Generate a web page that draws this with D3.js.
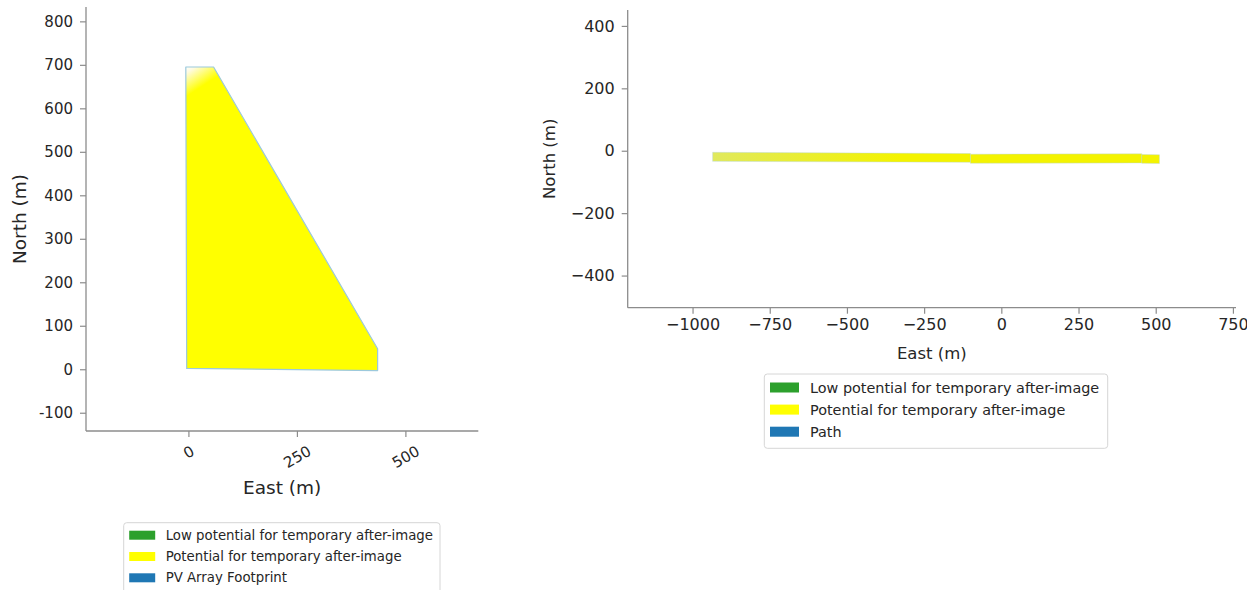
<!DOCTYPE html>
<html>
<head>
<meta charset="utf-8">
<script src="https://cdn.jsdelivr.net/npm/d3@7"></script>
<style>
  html, body { margin: 0; padding: 0; background: #fff; overflow: hidden; }
  svg { display: block; font-family: "DejaVu Sans", sans-serif; }
</style>
</head>
<body>
<svg id="chart" width="1247" height="590"></svg>
<script>
// ---------- DATA ----------
// Left panel: PV array footprint polygon (East, North in metres)
const footprintPolygon = [[-6, 695], [58, 695], [436, 47], [436, -3], [-4, 2]];
const leftXTicks = [0, 250, 500];
const leftYTicks = [-100, 0, 100, 200, 300, 400, 500, 600, 700, 800];
const leftXDomain = [-236, 668];
const leftYDomain = [-142, 833];

// Right panel: path segments (East, North in metres)
const pathSegments = [
  [[-935, -5], [-100, -9], [-100, -37], [-935, -34]],
  [[-100, -11], [455, -10], [455, -39], [-100, -40]],
  [[455, -12], [512, -13], [512, -41], [455, -40]]
];
const rightXTicks = [-1000, -750, -500, -250, 0, 250, 500, 750];
const rightYTicks = [-400, -200, 0, 200, 400];
const rightXDomain = [-1210, 760];
const rightYDomain = [-503, 451];

const legendLabels = ["Low potential for temporary after-image", "Potential for temporary after-image"];
const legendColors = ["#2ca02c", "#ffff00", "#1f77b4"];
const leftLegendLast = "PV Array Footprint";
const rightLegendLast = "Path";

// ---------- DRAW ----------
const svg = d3.select("#chart");
const textColor = "#262626";
const spineColor = "#8c8c8c";

const defs = svg.append("defs");
const g1 = defs.append("linearGradient").attr("id", "polyGrad")
  .attr("x1", 0).attr("y1", 0).attr("x2", 0.25).attr("y2", 0.6);
g1.append("stop").attr("offset", "0%").attr("stop-color", "#ffffff");
g1.append("stop").attr("offset", "3%").attr("stop-color", "#fffbe0");
g1.append("stop").attr("offset", "14%").attr("stop-color", "#ffff00");
g1.append("stop").attr("offset", "100%").attr("stop-color", "#ffff00");

const g2 = defs.append("linearGradient").attr("id", "pathGrad")
  .attr("gradientUnits", "userSpaceOnUse").attr("x1", 711).attr("y1", 0).attr("x2", 900).attr("y2", 0);
g2.append("stop").attr("offset", "0%").attr("stop-color", "#e0e95e");
g2.append("stop").attr("offset", "100%").attr("stop-color", "#f4f300");

function drawPanel(opt) {
  const x = d3.scaleLinear().domain(opt.xDomain).range(opt.xRange);
  const y = d3.scaleLinear().domain(opt.yDomain).range(opt.yRange);
  const g = svg.append("g");

  const yAxis = d3.axisLeft(y).tickValues(opt.yTicks).tickSize(6).tickPadding(7)
    .tickFormat(opt.fmt);
  const ya = g.append("g").attr("transform", `translate(${opt.xRange[0]},0)`).call(yAxis);
  const xAxis = d3.axisBottom(x).tickValues(opt.xTicks).tickSize(6).tickPadding(opt.rotate ? 8 : 5)
    .tickFormat(opt.fmt);
  const xa = g.append("g").attr("transform", `translate(0,${opt.yRange[0]})`).call(xAxis);

  [ya, xa].forEach(a => {
    a.select(".domain").remove();
    a.selectAll(".tick line").attr("stroke", spineColor).attr("stroke-width", 1.2);
    a.selectAll(".tick text").attr("fill", textColor)
      .style("font-size", opt.tickFont + "px").style("font-family", "DejaVu Sans");
  });
  g.append("line").attr("x1", opt.xRange[0]).attr("x2", opt.xRange[0])
    .attr("y1", opt.yRange[0]).attr("y2", opt.yRange[1])
    .attr("stroke", spineColor).attr("stroke-width", 1.3);
  g.append("line").attr("x1", opt.xRange[0]).attr("x2", opt.xRange[1])
    .attr("y1", opt.yRange[0]).attr("y2", opt.yRange[0])
    .attr("stroke", spineColor).attr("stroke-width", 1.3);

  if (opt.rotate) {
    xa.selectAll(".tick text").each(function () {
      const t = d3.select(this);
      const w = this.getComputedTextLength();
      const h = opt.tickFont * 0.9;
      const a = Math.PI / 6;
      const H = w * Math.sin(a) + h * Math.cos(a);
      const cy = 6 + 7 + H / 2;
      t.attr("y", null).attr("dy", null)
        .attr("dominant-baseline", "central")
        .attr("text-anchor", "middle")
        .attr("transform", `translate(0,${cy}) rotate(-30)`);
    });
  }

  g.append("text").text("East (m)")
    .attr("x", (opt.xRange[0] + opt.xRange[1]) / 2).attr("y", opt.xLabelY)
    .attr("text-anchor", "middle").attr("dominant-baseline", "central")
    .attr("fill", textColor).style("font-size", opt.labelFont + "px");
  g.append("text").text("North (m)")
    .attr("transform", `translate(${opt.yLabelX},${(opt.yRange[0] + opt.yRange[1]) / 2}) rotate(-90)`)
    .attr("text-anchor", "middle").attr("dominant-baseline", "central")
    .attr("fill", textColor).style("font-size", opt.labelFont + "px");

  const line = d3.line().x(d => x(d[0])).y(d => y(d[1]));
  g.selectAll("path.shape").data(opt.shapes).join("path")
    .attr("class", "shape")
    .attr("d", d => line(d) + "Z")
    .attr("fill", opt.fill)
    .attr("stroke", opt.stroke).attr("stroke-opacity", opt.strokeOpacity)
    .attr("stroke-width", opt.strokeWidth).attr("stroke-linejoin", "round");

  const L = opt.legend;
  const lg = g.append("g");
  lg.append("rect").attr("x", L.x).attr("y", L.y).attr("width", L.w).attr("height", L.h)
    .attr("rx", 3).attr("fill", "#fff").attr("stroke", "#d6d6d6").attr("stroke-width", 1);
  const items = legendLabels.concat([L.last]);
  items.forEach((lab, i) => {
    const cy = L.y + L.first + i * L.step;
    lg.append("rect").attr("x", L.x + L.px).attr("y", cy - L.ph / 2)
      .attr("width", L.pw).attr("height", L.ph).attr("fill", legendColors[i]);
    lg.append("text").text(lab).attr("x", L.x + L.tx).attr("y", cy)
      .attr("dominant-baseline", "central").attr("fill", textColor)
      .style("font-size", L.font + "px");
  });
}

drawPanel({
  xDomain: leftXDomain, yDomain: leftYDomain,
  xRange: [86, 478.3], yRange: [431, 7],
  xTicks: leftXTicks, yTicks: leftYTicks,
  fmt: d => (d < 0 ? "-" + Math.abs(d) : String(d)),
  tickFont: 15, labelFont: 18.5, rotate: true,
  xLabelY: 487, yLabelX: 19,
  shapes: [footprintPolygon], fill: "url(#polyGrad)",
  stroke: "#9cc9dc", strokeOpacity: 1, strokeWidth: 1.2,
  legend: { x: 123.7, y: 522.7, w: 316.3, h: 76, first: 12.5, step: 21.3,
            px: 5.5, pw: 26, ph: 9, tx: 42, font: 13.3, last: leftLegendLast }
});

drawPanel({
  xDomain: rightXDomain, yDomain: rightYDomain,
  xRange: [627.7, 1236], yRange: [307.7, 10],
  xTicks: rightXTicks, yTicks: rightYTicks,
  fmt: d => (d < 0 ? "\u2212" + Math.abs(d) : String(d)),
  tickFont: 16, labelFont: 16.5, rotate: false,
  xLabelY: 353, yLabelX: 549,
  shapes: pathSegments, fill: "url(#pathGrad)",
  stroke: "#b4d4e2", strokeOpacity: 0.5, strokeWidth: 0.8,
  legend: { x: 764.3, y: 374, w: 343.4, h: 74.3, first: 13.5, step: 22.1,
            px: 5.7, pw: 29, ph: 10, tx: 45.7, font: 14.4, last: rightLegendLast }
});
</script>
</body>
</html>
